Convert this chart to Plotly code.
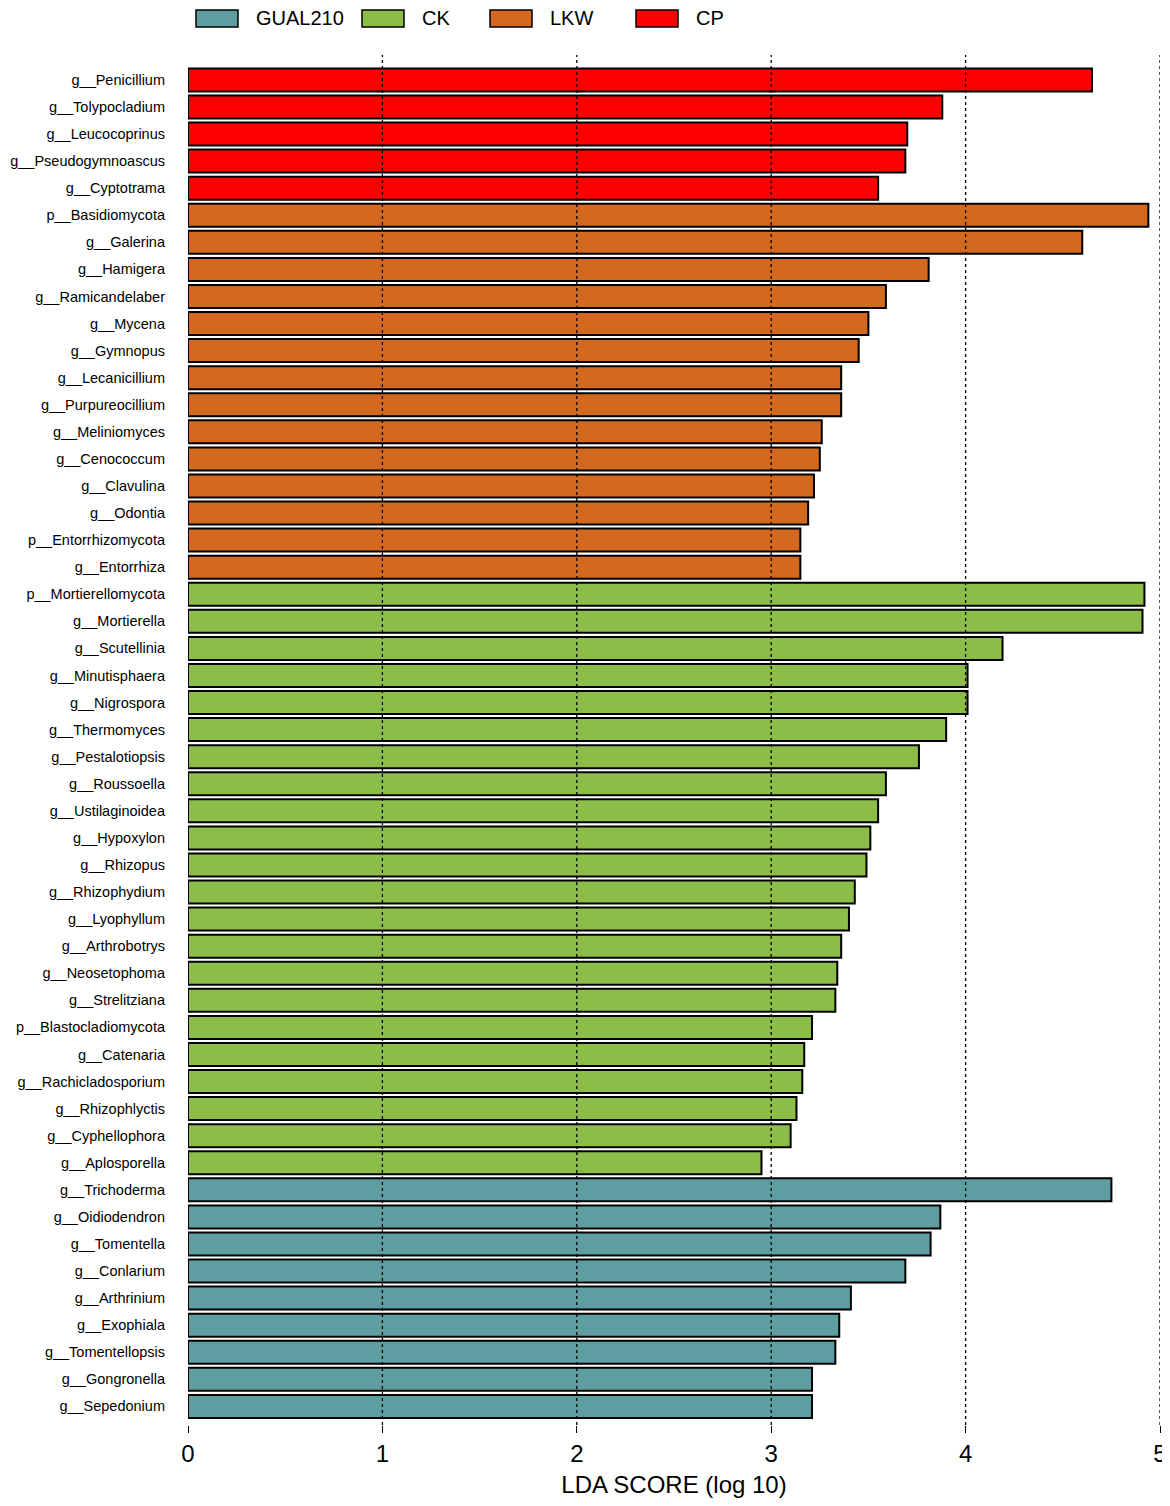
import plotly.graph_objects as go

# taxa, top to bottom as in the figure
cp_taxa = ["g__Penicillium", "g__Tolypocladium", "g__Leucocoprinus",
           "g__Pseudogymnoascus", "g__Cyptotrama"]
cp_lda = [4.65, 3.88, 3.70, 3.69, 3.55]

lkw_taxa = ["p__Basidiomycota", "g__Galerina", "g__Hamigera", "g__Ramicandelaber",
            "g__Mycena", "g__Gymnopus", "g__Lecanicillium", "g__Purpureocillium",
            "g__Meliniomyces", "g__Cenococcum", "g__Clavulina", "g__Odontia",
            "p__Entorrhizomycota", "g__Entorrhiza"]
lkw_lda = [4.94, 4.60, 3.81, 3.59, 3.50, 3.45, 3.36, 3.36,
           3.26, 3.25, 3.22, 3.19, 3.15, 3.15]

ck_taxa = ["p__Mortierellomycota", "g__Mortierella", "g__Scutellinia", "g__Minutisphaera",
           "g__Nigrospora", "g__Thermomyces", "g__Pestalotiopsis", "g__Roussoella",
           "g__Ustilaginoidea", "g__Hypoxylon", "g__Rhizopus", "g__Rhizophydium",
           "g__Lyophyllum", "g__Arthrobotrys", "g__Neosetophoma", "g__Strelitziana",
           "p__Blastocladiomycota", "g__Catenaria", "g__Rachicladosporium",
           "g__Rhizophlyctis", "g__Cyphellophora", "g__Aplosporella"]
ck_lda = [4.92, 4.91, 4.19, 4.01, 4.01, 3.90, 3.76, 3.59, 3.55, 3.51, 3.49,
          3.43, 3.40, 3.36, 3.34, 3.33, 3.21, 3.17, 3.16, 3.13, 3.10, 2.95]

gual_taxa = ["g__Trichoderma", "g__Oidiodendron", "g__Tomentella", "g__Conlarium",
             "g__Arthrinium", "g__Exophiala", "g__Tomentellopsis", "g__Gongronella",
             "g__Sepedonium"]
gual_lda = [4.75, 3.87, 3.82, 3.69, 3.41, 3.35, 3.33, 3.21, 3.21]

# legend order
groups = ["GUAL210", "CK", "LKW", "CP"]
colors = {"GUAL210": "#5F9EA0", "CK": "#8CBD48", "LKW": "#D2691E", "CP": "#FF0000"}

series = [("CP", cp_taxa, cp_lda), ("LKW", lkw_taxa, lkw_lda),
          ("CK", ck_taxa, ck_lda), ("GUAL210", gual_taxa, gual_lda)]
order = cp_taxa + lkw_taxa + ck_taxa + gual_taxa

fig = go.Figure()
for g, taxa, vals in series:
    fig.add_trace(go.Bar(x=vals, y=taxa, orientation="h", name=g,
                         marker=dict(color=colors[g], line=dict(color="black", width=2)),
                         showlegend=False))

# dotted grid drawn over the bars
for v in [1, 2, 3, 4, 5]:
    fig.add_shape(type="line", x0=v, x1=v, y0=0, y1=1, yref="paper",
                  line=dict(color="black", width=1.3, dash="dot"), layer="above")

# legend boxes at the top (page px -> paper fraction)
def px_x(p):
    return (p - 188) / 972

def px_y(p):
    return (1425 - p) / 1370

leg_x = [196, 362, 490, 636]
for g, lx in zip(groups, leg_x):
    fig.add_shape(type="rect", xref="paper", yref="paper",
                  x0=px_x(lx), x1=px_x(lx + 42), y0=px_y(27), y1=px_y(10),
                  fillcolor=colors[g], line=dict(color="black", width=1.5))
    fig.add_annotation(x=px_x(lx + 58), y=px_y(18), xref="paper", yref="paper",
                       text=g, showarrow=False, xanchor="left", yanchor="middle",
                       font=dict(size=20, color="black"))

# page has an 8px body margin; keep the page from scrolling
fig.update_layout(
    width=1162, height=1490,
    margin=dict(l=180, r=10, t=47, b=73, autoexpand=False),
    plot_bgcolor="white", paper_bgcolor="white",
    font=dict(family="Liberation Sans, Arial, sans-serif", color="black"),
    bargap=0.15,
    xaxis=dict(range=[0, 5], tickvals=[0, 1, 2, 3, 4, 5], showgrid=False,
               zeroline=False, showline=False, ticks="outside", ticklen=7,
               tickcolor="black", tickwidth=1, tickfont=dict(size=24),
               ticklabeloverflow="allow",
               anchor="free", position=0, automargin=False,
               title=dict(text="LDA SCORE (log 10)", font=dict(size=24), standoff=12)),
    yaxis=dict(categoryorder="array", categoryarray=order, range=[49.5, -0.92],
               domain=[0.0037, 1], showgrid=False, zeroline=False, showline=False,
               ticks="", tickfont=dict(size=14.5), ticklabelstandoff=22,
               automargin=False),
)

fig.write_html("out.html")
